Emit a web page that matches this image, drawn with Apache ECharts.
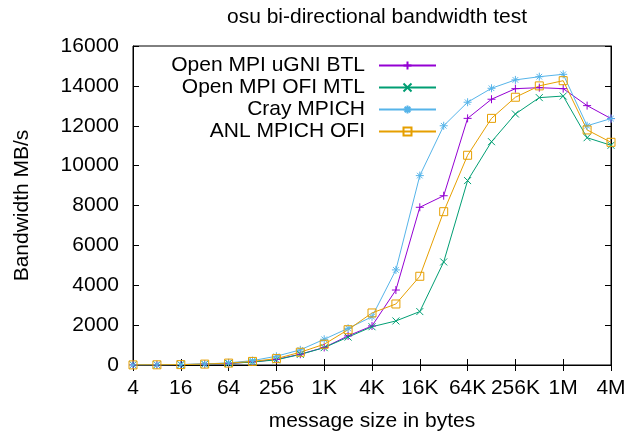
<!DOCTYPE html>
<html>
<head>
<meta charset="utf-8">
<script src="https://cdn.jsdelivr.net/npm/echarts@6/dist/echarts.min.js"></script>
<style>html,body{margin:0;padding:0;background:#fff;}#c{width:626px;height:433px;}</style>
</head>
<body>
<div id="c"></div>
<script>
// message sizes 4 B .. 4 MB (powers of two, evenly spaced on the log2 axis)
var sizeLabels = ['4', '8', '16', '32', '64', '128', '256', '512', '1K', '2K', '4K', '8K', '16K', '32K', '64K', '128K', '256K', '512K', '1M', '2M', '4M'];
var ugniBtl = [5, 10, 20, 40, 80, 150, 280, 540, 880, 1460, 1960, 3760, 7910, 8490, 12370, 13330, 13860, 13910, 13860, 13010, 12360];
var ofiMtl = [5, 10, 20, 40, 80, 150, 260, 530, 870, 1400, 1920, 2210, 2680, 5170, 9250, 11200, 12590, 13410, 13490, 11400, 11020];
var crayMpich = [5, 10, 25, 50, 110, 220, 440, 760, 1290, 1840, 2420, 4770, 9500, 12000, 13180, 13880, 14300, 14460, 14580, 12000, 12360];
var anlMpichOfi = [5, 10, 20, 45, 95, 180, 320, 640, 1040, 1770, 2610, 3060, 4450, 7690, 10520, 12370, 13430, 14000, 14260, 11790, 11170];
var seriesNames = ['Open MPI uGNI BTL', 'Open MPI OFI MTL', 'Cray MPICH', 'ANL MPICH OFI'];
var yTicks = [0, 2000, 4000, 6000, 8000, 10000, 12000, 14000, 16000];
var colors = ['#9400d3', '#009e73', '#56b4e9', '#e69f00'];

var FONT = 'Liberation Sans, Arial, Helvetica, sans-serif';
var FS = 21;
var plusPath = 'path://M0,5L10,5M5,0L5,10';
var crossPath = 'path://M0,0L10,10M10,0L0,10';
var starPath = 'path://M0,5L10,5M5,0L5,10M1.5,1.5L8.5,8.5M8.5,1.5L1.5,8.5';

function mkSeries(name, vals, color, symbol, size, hollow) {
  return {
    name: name, type: 'line', data: vals,
    symbol: symbol, symbolSize: size, showSymbol: true,
    lineStyle: { color: color, width: 1 },
    itemStyle: { color: hollow ? 'rgba(0,0,0,0)' : color, borderColor: color, borderWidth: 1 },
    emphasis: { disabled: true },
    animation: false
  };
}

function catAxis(pos, showLabels) {
  return {
    type: 'category', data: sizeLabels, boundaryGap: false, position: pos,
    axisLine: { show: true, lineStyle: { color: '#000', width: 1 } },
    axisTick: { show: true, inside: true, length: 6, interval: 1, lineStyle: { color: '#000' } },
    splitLine: { show: false },
    axisLabel: showLabels ? { show: true, interval: 1, fontFamily: FONT, fontSize: FS, color: '#000', margin: 13 } : { show: false }
  };
}

var chart = echarts.init(document.getElementById('c'), null, { renderer: 'canvas' });
var xBottom = catAxis('bottom', true);
xBottom.name = 'message size in bytes';
xBottom.nameLocation = 'middle';
xBottom.nameGap = 46;
xBottom.nameTextStyle = { fontFamily: FONT, fontSize: FS, color: '#000' };

chart.setOption({
  animation: false,
  color: colors,
  title: {
    text: 'osu bi-directional bandwidth test', left: 372, textAlign: 'center', top: 2,
    textStyle: { fontFamily: FONT, fontSize: FS, fontWeight: 'normal', color: '#000' }
  },
  grid: {
    left: 133, top: 46, right: 15, bottom: 68, containLabel: false, outerBoundsMode: 'none',
    show: true, borderColor: '#000', borderWidth: 1, backgroundColor: 'transparent'
  },
  legend: {
    orient: 'vertical', right: 184, top: 50, align: 'right',
    itemWidth: 57, itemHeight: 10, itemGap: 1,
    textStyle: { fontFamily: FONT, fontSize: FS, color: '#000', lineHeight: 19, padding: [0, 9, 0, 0] },
    data: seriesNames
  },
  xAxis: [xBottom, catAxis('top', false)],
  yAxis: [
    {
      type: 'value', min: yTicks[0], max: yTicks[yTicks.length - 1], interval: yTicks[1] - yTicks[0],
      name: 'Bandwidth MB/s', nameLocation: 'middle', nameGap: 100, nameRotate: 90,
      nameTextStyle: { fontFamily: FONT, fontSize: FS, color: '#000' },
      axisLine: { show: true, lineStyle: { color: '#000' } },
      axisTick: { show: true, inside: true, length: 6, lineStyle: { color: '#000' } },
      splitLine: { show: false },
      axisLabel: { fontFamily: FONT, fontSize: FS, color: '#000', margin: 14, formatter: function (v) { return String(v); } }
    },
    {
      type: 'value', min: yTicks[0], max: yTicks[yTicks.length - 1], interval: yTicks[1] - yTicks[0], position: 'right',
      axisLine: { show: true, lineStyle: { color: '#000' } },
      axisTick: { show: true, inside: true, length: 6, lineStyle: { color: '#000' } },
      splitLine: { show: false }, axisLabel: { show: false }
    }
  ],
  series: [
    mkSeries(seriesNames[0], ugniBtl, colors[0], plusPath, 8, false),
    mkSeries(seriesNames[1], ofiMtl, colors[1], crossPath, 7, false),
    mkSeries(seriesNames[2], crayMpich, colors[2], starPath, 8, false),
    mkSeries(seriesNames[3], anlMpichOfi, colors[3], 'rect', 8, true)
  ]
});
</script>
</body>
</html>
